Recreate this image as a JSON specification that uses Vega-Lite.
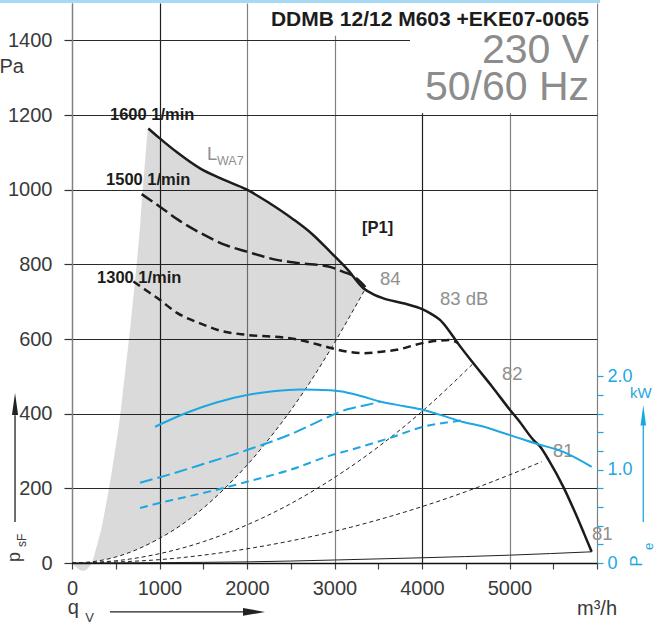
{
"$schema": "https://vega.github.io/schema/vega-lite/v6.json",
"width": 525, "height": 560, "autosize": "none",
"padding": {"left": 72, "top": 3, "right": 59, "bottom": 67},
"background": "white",
"config": {"view": {"stroke": null}, "font": "Liberation Sans"},
"datasets": {
 "gray": [
  {"x":0,"lo":0,"hi":0},{"x":45,"lo":0,"hi":-11},{"x":90,"lo":0.5,"hi":-19},{"x":126,"lo":1,"hi":-21},{"x":165,"lo":2,"hi":-18},{"x":200,"lo":2.6,"hi":-9},{"x":230,"lo":3.5,"hi":3},{"x":265,"lo":4.6,"hi":30},{"x":300,"lo":6,"hi":60},{"x":339,"lo":7.5,"hi":96},{"x":380,"lo":9.5,"hi":146},{"x":423,"lo":11.7,"hi":201},{"x":490,"lo":15.7,"hi":298},{"x":554,"lo":20,"hi":402},{"x":600,"lo":23.6,"hi":497},{"x":651,"lo":27.8,"hi":600},{"x":700,"lo":32,"hi":710},{"x":739,"lo":35.8,"hi":801},{"x":775,"lo":39,"hi":895},{"x":808,"lo":42.8,"hi":999},{"x":840,"lo":46,"hi":1090},{"x":861,"lo":48.6,"hi":1150},{"x":872,"lo":49.8,"hi":1164},{"x":1000,"lo":65.5,"hi":1138},{"x":1200,"lo":94,"hi":1100},{"x":1463,"lo":140,"hi":1057},{"x":1700,"lo":189,"hi":1030},{"x":2000,"lo":262,"hi":1000},{"x":2250,"lo":332,"hi":965},{"x":2527,"lo":418,"hi":921},{"x":2750,"lo":495,"hi":880},{"x":2949,"lo":570,"hi":834},{"x":3150,"lo":650,"hi":786},{"x":3349,"lo":733,"hi":733}
 ],
 "sys": [
  {"c":"A","x":0,"pa":0},{"c":"A","x":250,"pa":4},{"c":"A","x":500,"pa":16},{"c":"A","x":750,"pa":37},{"c":"A","x":1000,"pa":66},{"c":"A","x":1250,"pa":102},{"c":"A","x":1500,"pa":147},{"c":"A","x":1750,"pa":201},{"c":"A","x":2000,"pa":262},{"c":"A","x":2250,"pa":332},{"c":"A","x":2500,"pa":409},{"c":"A","x":2750,"pa":495},{"c":"A","x":3000,"pa":590},{"c":"A","x":3200,"pa":671},{"c":"A","x":3349,"pa":733},
  {"c":"B","x":0,"pa":0},{"c":"B","x":500,"pa":6},{"c":"B","x":1000,"pa":25},{"c":"B","x":1500,"pa":57},{"c":"B","x":2000,"pa":102},{"c":"B","x":2500,"pa":159},{"c":"B","x":3000,"pa":229},{"c":"B","x":3500,"pa":311},{"c":"B","x":4000,"pa":406},{"c":"B","x":4300,"pa":470},{"c":"B","x":4587,"pa":535},
  {"c":"C","x":0,"pa":0},{"c":"C","x":1000,"pa":9},{"c":"C","x":2000,"pa":38},{"c":"C","x":3000,"pa":85},{"c":"C","x":4000,"pa":151},{"c":"C","x":4500,"pa":191},{"c":"C","x":5000,"pa":236},{"c":"C","x":5367,"pa":271}
 ],
 "sysD": [{"x":0,"pa":0},{"x":1000,"pa":1},{"x":2000,"pa":3},{"x":3000,"pa":8},{"x":4000,"pa":14},{"x":5000,"pa":21},{"x":5939,"pa":30}],
 "p1600": [{"x":872,"pa":1164},{"x":1000,"pa":1138},{"x":1200,"pa":1100},{"x":1463,"pa":1057},{"x":1700,"pa":1030},{"x":2000,"pa":1000},{"x":2250,"pa":965},{"x":2527,"pa":921},{"x":2750,"pa":880},{"x":2949,"pa":834},{"x":3150,"pa":786},{"x":3330,"pa":736},{"x":3450,"pa":719},{"x":3558,"pa":709},{"x":3800,"pa":695},{"x":4003,"pa":680},{"x":4100,"pa":668},{"x":4206,"pa":651},{"x":4300,"pa":625},{"x":4396,"pa":593},{"x":4587,"pa":535},{"x":4800,"pa":473},{"x":5006,"pa":410},{"x":5101,"pa":383},{"x":5272,"pa":330},{"x":5349,"pa":312},{"x":5450,"pa":275},{"x":5615,"pa":204},{"x":5750,"pa":135},{"x":5850,"pa":80},{"x":5939,"pa":30}],
 "p1500": [{"x":796,"pa":988},{"x":1000,"pa":955},{"x":1215,"pa":919},{"x":1500,"pa":880},{"x":1750,"pa":852},{"x":2000,"pa":834},{"x":2339,"pa":812},{"x":2600,"pa":803},{"x":2930,"pa":794},{"x":3100,"pa":780},{"x":3215,"pa":769},{"x":3300,"pa":752},{"x":3380,"pa":732}],
 "p1300": [{"x":701,"pa":754},{"x":850,"pa":730},{"x":1002,"pa":705},{"x":1200,"pa":670},{"x":1463,"pa":642},{"x":1700,"pa":622},{"x":2000,"pa":611},{"x":2491,"pa":602},{"x":2700,"pa":592},{"x":2891,"pa":580},{"x":3100,"pa":568},{"x":3330,"pa":562},{"x":3500,"pa":565},{"x":3710,"pa":571},{"x":4003,"pa":589},{"x":4200,"pa":596},{"x":4320,"pa":597},{"x":4415,"pa":589}],
 "kw1600": [{"x":949,"kw":1.46},{"x":1311,"kw":1.61},{"x":1650,"kw":1.72},{"x":2000,"kw":1.8},{"x":2300,"kw":1.84},{"x":2606,"kw":1.86},{"x":2949,"kw":1.85},{"x":3063,"kw":1.84},{"x":3300,"kw":1.79},{"x":3520,"kw":1.73},{"x":3800,"kw":1.68},{"x":4015,"kw":1.64},{"x":4300,"kw":1.56},{"x":4472,"kw":1.51},{"x":4663,"kw":1.47},{"x":5006,"kw":1.37},{"x":5300,"kw":1.28},{"x":5615,"kw":1.19},{"x":5939,"kw":1.03}],
 "kw1500": [{"x":777,"kw":0.86},{"x":1120,"kw":0.95},{"x":1500,"kw":1.06},{"x":2000,"kw":1.21},{"x":2500,"kw":1.38},{"x":2940,"kw":1.57},{"x":3063,"kw":1.62},{"x":3300,"kw":1.68},{"x":3444,"kw":1.71},{"x":3520,"kw":1.73}],
 "kw1300": [{"x":777,"kw":0.59},{"x":1120,"kw":0.67},{"x":1500,"kw":0.75},{"x":2000,"kw":0.87},{"x":2500,"kw":1.0},{"x":2949,"kw":1.15},{"x":3177,"kw":1.21},{"x":3634,"kw":1.34},{"x":4015,"kw":1.46},{"x":4320,"kw":1.51},{"x":4480,"kw":1.53}]
},
"layer": [
 {"layer": [
  {"data": {"name": "gray"},
   "mark": {"type": "area", "fill": "#000", "fillOpacity": 0.145, "interpolate": "monotone"},
   "encoding": {
    "x": {"field": "x", "type": "quantitative", "scale": {"domain": [0, 6000], "nice": false},
     "axis": {"values": [0,500,1000,1500,2000,2500,3000,3500,4000,4500,5000,5500,6000],
      "format": "d", "labelExpr": "datum.value % 1000 === 0 && datum.value < 6000 ? datum.label : ''",
      "grid": true,
      "gridColor": {"condition": {"test": "datum.value === 1000 || datum.value === 4000", "value": "#1e1e1e"}, "value": "#808080"},
      "gridOpacity": {"condition": {"test": "datum.value % 1000 === 0", "value": 1}, "value": 0},
      "gridWidth": 1.2, "tickSize": 6, "tickColor": "#444", "tickWidth": 1.2,
      "domainColor": "#111", "domainWidth": 1.3,
      "labelFont": "Liberation Sans", "labelFontSize": 20, "labelColor": "#3a3a3a", "labelPadding": 9,
      "labelOverlap": false, "labelFlush": false, "labelBound": false, "title": null}},
    "y": {"field": "hi", "type": "quantitative", "scale": {"domain": [0, 1500], "nice": false},
     "axis": {"orient": "left", "values": [0,100,200,300,400,500,600,700,800,900,1000,1100,1200,1300,1400],
      "format": "d", "labelExpr": "datum.value % 200 === 0 ? datum.label : ''",
      "grid": true,
      "gridOpacity": {"condition": {"test": "datum.value % 200 === 0", "value": 1}, "value": 0},
      "gridColor": "#2a2a2a", "gridWidth": 1.2,
      "tickSize": {"condition": {"test": "datum.value % 200 === 0", "value": 8}, "value": 4},
      "tickColor": "#333", "tickWidth": 1.2,
      "domainColor": "#808080", "domainWidth": 1.3,
      "labelFont": "Liberation Sans", "labelFontSize": 20, "labelColor": "#3a3a3a", "labelPadding": 12,
      "labelOverlap": false, "labelFlush": false, "labelBound": false, "title": null}},
    "y2": {"field": "lo"}
   }},
  {"data": {"name": "sys"},
   "mark": {"type": "line", "color": "#222", "strokeWidth": 1, "strokeDash": [4, 3], "interpolate": "monotone"},
   "encoding": {
    "x": {"field": "x", "type": "quantitative", "scale": {"domain": [0, 6000], "nice": false}},
    "y": {"field": "pa", "type": "quantitative", "scale": {"domain": [0, 1500], "nice": false}},
    "detail": {"field": "c"}}},
  {"data": {"name": "sysD"},
   "mark": {"type": "line", "color": "#222", "strokeWidth": 1, "interpolate": "monotone"},
   "encoding": {
    "x": {"field": "x", "type": "quantitative", "scale": {"domain": [0, 6000], "nice": false}},
    "y": {"field": "pa", "type": "quantitative", "scale": {"domain": [0, 1500], "nice": false}}}},
  {"data": {"name": "p1600"},
   "mark": {"type": "line", "color": "#1c1c1c", "strokeWidth": 2.5, "interpolate": "monotone"},
   "encoding": {
    "x": {"field": "x", "type": "quantitative", "scale": {"domain": [0, 6000], "nice": false}},
    "y": {"field": "pa", "type": "quantitative", "scale": {"domain": [0, 1500], "nice": false}}}},
  {"data": {"name": "p1500"},
   "mark": {"type": "line", "color": "#1c1c1c", "strokeWidth": 2.5, "strokeDash": [13, 5], "interpolate": "monotone"},
   "encoding": {
    "x": {"field": "x", "type": "quantitative", "scale": {"domain": [0, 6000], "nice": false}},
    "y": {"field": "pa", "type": "quantitative", "scale": {"domain": [0, 1500], "nice": false}}}},
  {"data": {"name": "p1300"},
   "mark": {"type": "line", "color": "#1c1c1c", "strokeWidth": 2.5, "strokeDash": [8, 5], "interpolate": "monotone"},
   "encoding": {
    "x": {"field": "x", "type": "quantitative", "scale": {"domain": [0, 6000], "nice": false}},
    "y": {"field": "pa", "type": "quantitative", "scale": {"domain": [0, 1500], "nice": false}}}},
  {"data": {"values": [{"x": 2100, "x2": 6000, "pa": 1412, "pa2": 1500}, {"x": 3863, "x2": 6000, "pa": 1205, "pa2": 1500}]},
   "mark": {"type": "rect", "fill": "white"},
   "encoding": {
    "x": {"field": "x", "type": "quantitative", "scale": {"domain": [0, 6000], "nice": false}},
    "x2": {"field": "x2"},
    "y": {"field": "pa", "type": "quantitative", "scale": {"domain": [0, 1500], "nice": false}},
    "y2": {"field": "pa2"}}},
  {"data": {"values": [{"x": -823, "x2": 6034, "pa": 1500, "pa2": 1508}]},
   "mark": {"type": "rect", "fill": "#a6daf4"},
   "encoding": {
    "x": {"field": "x", "type": "quantitative", "scale": {"domain": [0, 6000], "nice": false}},
    "x2": {"field": "x2"},
    "y": {"field": "pa", "type": "quantitative", "scale": {"domain": [0, 1500], "nice": false}},
    "y2": {"field": "pa2"}}},
  {"data": {"values": [{"x": -651, "x2": -651, "pa": 110, "pa2": 396}, {"x": 434, "x2": 1954, "pa": -131, "pa2": -131}]},
   "mark": {"type": "rule", "color": "#222", "strokeWidth": 1.3},
   "encoding": {
    "x": {"field": "x", "type": "quantitative", "scale": {"domain": [0, 6000], "nice": false}},
    "x2": {"field": "x2"},
    "y": {"field": "pa", "type": "quantitative", "scale": {"domain": [0, 1500], "nice": false}},
    "y2": {"field": "pa2"}}},
  {"data": {"values": [{"x": 6529, "x2": 6529, "pa": 110, "pa2": 372}]},
   "mark": {"type": "rule", "color": "#1da7e1", "strokeWidth": 1.3},
   "encoding": {
    "x": {"field": "x", "type": "quantitative", "scale": {"domain": [0, 6000], "nice": false}},
    "x2": {"field": "x2"},
    "y": {"field": "pa", "type": "quantitative", "scale": {"domain": [0, 1500], "nice": false}},
    "y2": {"field": "pa2"}}},
  {"data": {"values": [{"x": -651, "pa": 426}]},
   "mark": {"type": "point", "shape": "M-0.28,1L0,-1L0.28,1Z", "filled": true, "color": "#222", "opacity": 1, "size": 484, "strokeWidth": 0},
   "encoding": {
    "x": {"field": "x", "type": "quantitative", "scale": {"domain": [0, 6000], "nice": false}},
    "y": {"field": "pa", "type": "quantitative", "scale": {"domain": [0, 1500], "nice": false}}}},
  {"data": {"values": [{"x": 6529, "pa": 396}]},
   "mark": {"type": "point", "shape": "M-0.27,1L0,-1L0.27,1Z", "filled": true, "color": "#1da7e1", "opacity": 1, "size": 420, "strokeWidth": 0},
   "encoding": {
    "x": {"field": "x", "type": "quantitative", "scale": {"domain": [0, 6000], "nice": false}},
    "y": {"field": "pa", "type": "quantitative", "scale": {"domain": [0, 1500], "nice": false}}}},
  {"data": {"values": [{"x": 2080, "pa": -131}]},
   "mark": {"type": "point", "shape": "M-1,-0.36L1,0L-1,0.36Z", "filled": true, "color": "#222", "opacity": 1, "size": 484, "strokeWidth": 0},
   "encoding": {
    "x": {"field": "x", "type": "quantitative", "scale": {"domain": [0, 6000], "nice": false}},
    "y": {"field": "pa", "type": "quantitative", "scale": {"domain": [0, 1500], "nice": false}}}},
  {"data": {"values": [{"t": "DDMB 12/12 M603 +EKE07-0065", "x": 5909, "pa": 1438}]},
   "mark": {"type": "text", "align": "right", "baseline": "alphabetic", "font": "Liberation Sans", "fontWeight": "bold", "fontSize": 21, "color": "#1c1c1c"},
   "encoding": {
    "x": {"field": "x", "type": "quantitative", "scale": {"domain": [0, 6000], "nice": false}},
    "y": {"field": "pa", "type": "quantitative", "scale": {"domain": [0, 1500], "nice": false}},
    "text": {"field": "t"}}},
  {"data": {"values": [{"t": "230 V", "x": 5909, "pa": 1339}, {"t": "50/60 Hz", "x": 5909, "pa": 1240}]},
   "mark": {"type": "text", "align": "right", "baseline": "alphabetic", "font": "Liberation Sans", "fontSize": 41, "color": "#8c8c8c"},
   "encoding": {
    "x": {"field": "x", "type": "quantitative", "scale": {"domain": [0, 6000], "nice": false}},
    "y": {"field": "pa", "type": "quantitative", "scale": {"domain": [0, 1500], "nice": false}},
    "text": {"field": "t"}}},
  {"data": {"values": [{"t": "1600 1/min", "x": 434, "pa": 1187}, {"t": "1500 1/min", "x": 389, "pa": 1013}, {"t": "1300 1/min", "x": 286, "pa": 750}, {"t": "[P1]", "x": 3314, "pa": 884}]},
   "mark": {"type": "text", "align": "left", "baseline": "alphabetic", "font": "Liberation Sans", "fontWeight": "bold", "fontSize": 16.5, "color": "#1c1c1c"},
   "encoding": {
    "x": {"field": "x", "type": "quantitative", "scale": {"domain": [0, 6000], "nice": false}},
    "y": {"field": "pa", "type": "quantitative", "scale": {"domain": [0, 1500], "nice": false}},
    "text": {"field": "t"}}},
  {"data": {"values": [{"t": "84", "x": 3520, "pa": 745}, {"t": "83 dB", "x": 4206, "pa": 691}, {"t": "82", "x": 4914, "pa": 490}, {"t": "81", "x": 5497, "pa": 284}, {"t": "81", "x": 5943, "pa": 62}, {"t": "L", "x": 1543, "pa": 1080}]},
   "mark": {"type": "text", "align": "left", "baseline": "alphabetic", "font": "Liberation Sans", "fontSize": 18.5, "color": "#8f8f8f"},
   "encoding": {
    "x": {"field": "x", "type": "quantitative", "scale": {"domain": [0, 6000], "nice": false}},
    "y": {"field": "pa", "type": "quantitative", "scale": {"domain": [0, 1500], "nice": false}},
    "text": {"field": "t"}}},
  {"data": {"values": [{"t": "WA7", "x": 1657, "pa": 1066}]},
   "mark": {"type": "text", "align": "left", "baseline": "alphabetic", "font": "Liberation Sans", "fontSize": 12.5, "color": "#8f8f8f"},
   "encoding": {
    "x": {"field": "x", "type": "quantitative", "scale": {"domain": [0, 6000], "nice": false}},
    "y": {"field": "pa", "type": "quantitative", "scale": {"domain": [0, 1500], "nice": false}},
    "text": {"field": "t"}}},
  {"data": {"values": [{"t": "Pa", "x": -689, "pa": 1312, "a": "left"}, {"t": "q", "x": 15, "pa": -137, "a": "left"}, {"t": "m³/h", "x": 6000, "pa": -139, "a": "right"}]},
   "mark": {"type": "text", "baseline": "alphabetic", "font": "Liberation Sans", "fontSize": 20, "color": "#3a3a3a"},
   "encoding": {
    "x": {"field": "x", "type": "quantitative", "scale": {"domain": [0, 6000], "nice": false}},
    "y": {"field": "pa", "type": "quantitative", "scale": {"domain": [0, 1500], "nice": false}},
    "align": {"field": "a", "type": "nominal", "scale": null},
    "text": {"field": "t"}}},
  {"data": {"values": [{"t": "V", "x": 150, "pa": -157}]},
   "mark": {"type": "text", "align": "left", "baseline": "alphabetic", "font": "Liberation Sans", "fontSize": 13, "color": "#3a3a3a"},
   "encoding": {
    "x": {"field": "x", "type": "quantitative", "scale": {"domain": [0, 6000], "nice": false}},
    "y": {"field": "pa", "type": "quantitative", "scale": {"domain": [0, 1500], "nice": false}},
    "text": {"field": "t"}}},
  {"data": {"values": [{"t": "p", "x": -594, "pa": 3}]},
   "mark": {"type": "text", "align": "left", "baseline": "alphabetic", "angle": 270, "font": "Liberation Sans", "fontSize": 18, "color": "#3a3a3a"},
   "encoding": {
    "x": {"field": "x", "type": "quantitative", "scale": {"domain": [0, 6000], "nice": false}},
    "y": {"field": "pa", "type": "quantitative", "scale": {"domain": [0, 1500], "nice": false}},
    "text": {"field": "t"}}},
  {"data": {"values": [{"t": "sF", "x": -526, "pa": 43}]},
   "mark": {"type": "text", "align": "left", "baseline": "alphabetic", "angle": 270, "font": "Liberation Sans", "fontSize": 12, "color": "#3a3a3a"},
   "encoding": {
    "x": {"field": "x", "type": "quantitative", "scale": {"domain": [0, 6000], "nice": false}},
    "y": {"field": "pa", "type": "quantitative", "scale": {"domain": [0, 1500], "nice": false}},
    "text": {"field": "t"}}},
  {"data": {"values": [{"t": "kW", "x": 6377, "pa": 441}]},
   "mark": {"type": "text", "align": "left", "baseline": "alphabetic", "font": "Liberation Sans", "fontSize": 15, "color": "#1da7e1"},
   "encoding": {
    "x": {"field": "x", "type": "quantitative", "scale": {"domain": [0, 6000], "nice": false}},
    "y": {"field": "pa", "type": "quantitative", "scale": {"domain": [0, 1500], "nice": false}},
    "text": {"field": "t"}}},
  {"data": {"values": [{"t": "P", "x": 6511, "pa": -10}]},
   "mark": {"type": "text", "align": "left", "baseline": "alphabetic", "angle": 270, "font": "Liberation Sans", "fontSize": 17, "color": "#1da7e1"},
   "encoding": {
    "x": {"field": "x", "type": "quantitative", "scale": {"domain": [0, 6000], "nice": false}},
    "y": {"field": "pa", "type": "quantitative", "scale": {"domain": [0, 1500], "nice": false}},
    "text": {"field": "t"}}},
  {"data": {"values": [{"t": "e", "x": 6643, "pa": 35}]},
   "mark": {"type": "text", "align": "left", "baseline": "alphabetic", "angle": 270, "font": "Liberation Sans", "fontSize": 13, "color": "#1da7e1"},
   "encoding": {
    "x": {"field": "x", "type": "quantitative", "scale": {"domain": [0, 6000], "nice": false}},
    "y": {"field": "pa", "type": "quantitative", "scale": {"domain": [0, 1500], "nice": false}},
    "text": {"field": "t"}}}
 ]},
 {"layer": [
  {"data": {"name": "kw1600"},
   "mark": {"type": "line", "color": "#1da7e1", "strokeWidth": 2, "interpolate": "monotone"},
   "encoding": {
    "x": {"field": "x", "type": "quantitative", "scale": {"domain": [0, 6000], "nice": false}},
    "y": {"field": "kw", "type": "quantitative", "scale": {"domain": [0, 6], "nice": false},
     "axis": {"orient": "right", "values": [0,0.2,0.4,0.6,0.8,1,1.2,1.4,1.6,1.8,2],
      "labelExpr": "datum.value === 0 ? '0' : ((datum.value === 1 || datum.value === 2) ? format(datum.value, '.1f') : '')",
      "domain": false, "grid": false, "tickColor": "#1da7e1", "tickSize": 6, "tickWidth": 1.2,
      "labelFont": "Liberation Sans", "labelColor": "#1da7e1", "labelFontSize": 18, "labelPadding": 4,
      "labelOverlap": false, "labelFlush": false, "labelBound": false, "title": null}}}},
  {"data": {"name": "kw1500"},
   "mark": {"type": "line", "color": "#1da7e1", "strokeWidth": 2, "strokeDash": [13, 5], "interpolate": "monotone"},
   "encoding": {
    "x": {"field": "x", "type": "quantitative", "scale": {"domain": [0, 6000], "nice": false}},
    "y": {"field": "kw", "type": "quantitative", "scale": {"domain": [0, 6], "nice": false}}}},
  {"data": {"name": "kw1300"},
   "mark": {"type": "line", "color": "#1da7e1", "strokeWidth": 2, "strokeDash": [8, 5], "interpolate": "monotone"},
   "encoding": {
    "x": {"field": "x", "type": "quantitative", "scale": {"domain": [0, 6000], "nice": false}},
    "y": {"field": "kw", "type": "quantitative", "scale": {"domain": [0, 6], "nice": false}}}}
 ]}
],
"resolve": {"scale": {"y": "independent"}}
}
